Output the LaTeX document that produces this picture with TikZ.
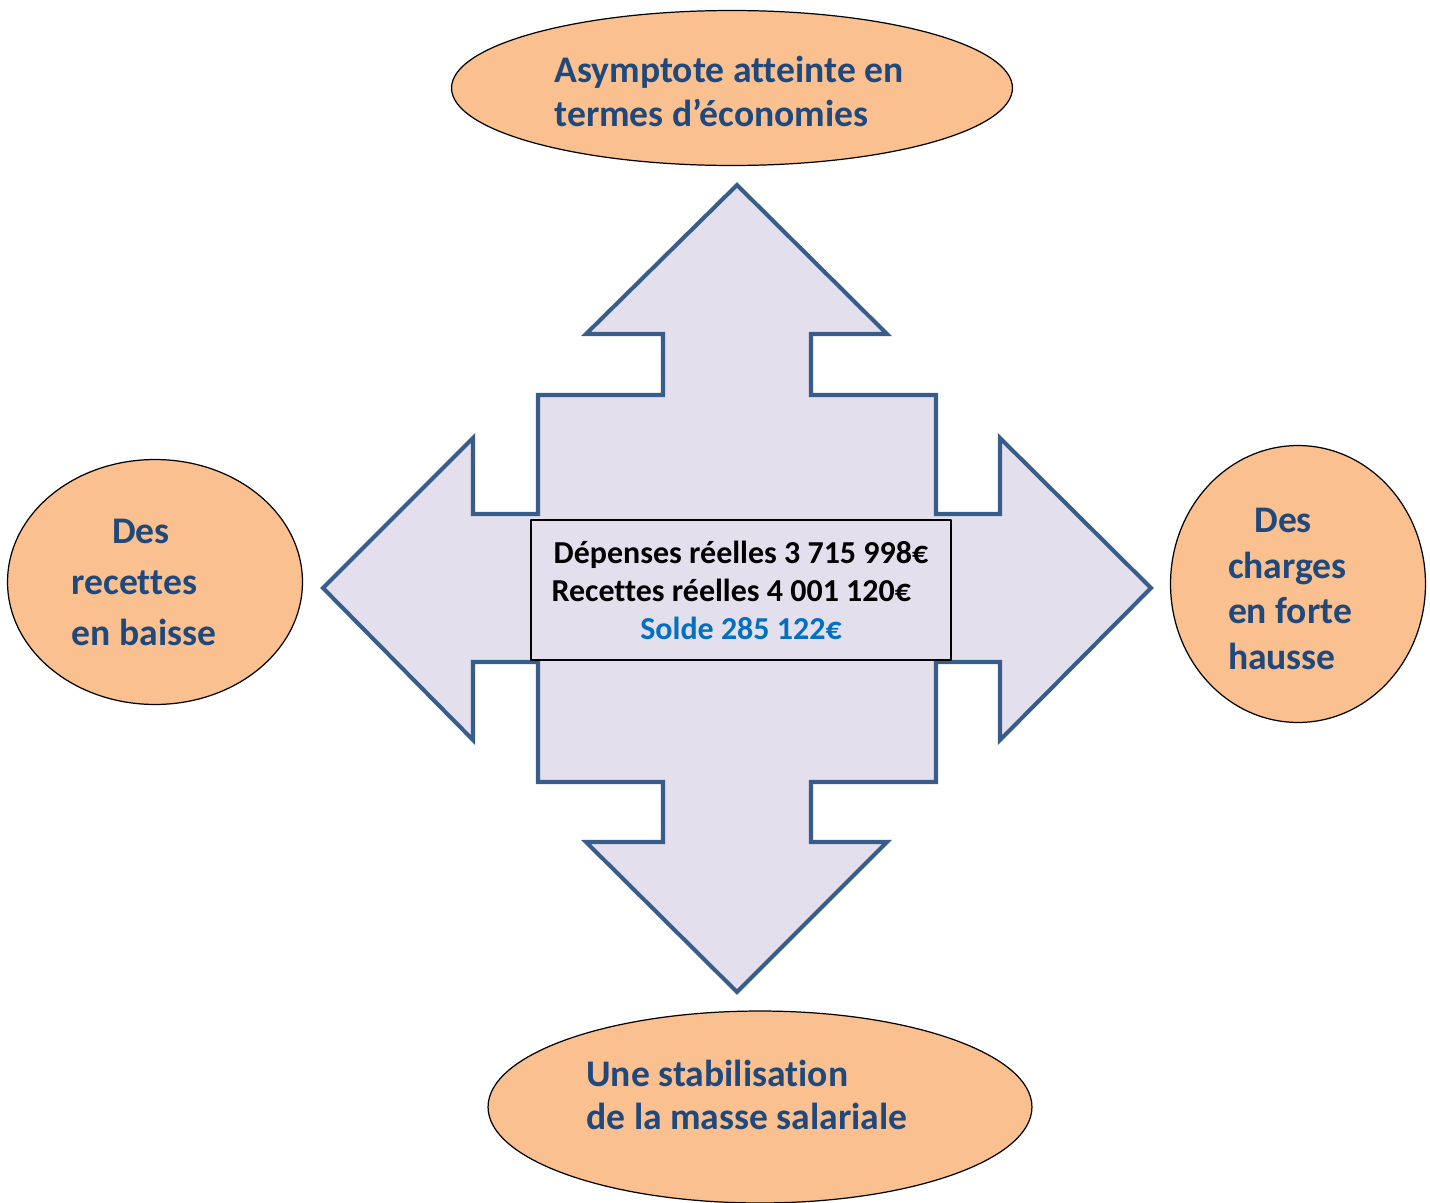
\documentclass[tikz,border=0pt]{standalone}
\usepackage{fontspec}
\setmainfont{Carlito}[Ligatures=NoCommon]
\usetikzlibrary{shapes.geometric}
\definecolor{lavande}{RGB}{228,223,236}
\definecolor{bordfleche}{RGB}{56,93,138}
\definecolor{bleutexte}{RGB}{31,73,125}
\definecolor{bleusolde}{RGB}{0,112,192}
\definecolor{orangeclair}{RGB}{250,192,144}
\begin{document}
\begin{tikzpicture}[x=0.02cm,y=-0.02cm, line join=round,
    bulle/.style={ellipse,draw=black,fill=orangeclair,line width=0.7pt,inner sep=0pt},
    texte/.style={text=bleutexte,align=left,inner sep=0pt},
    ]
    \def\taille{\fontsize{21.4}{25}\selectfont\bfseries}
    \useasboundingbox (0,0) rectangle (1430,1203);
    % fleche a quatre branches
    \draw[bordfleche, fill=lavande, line width=2.3pt, line join=miter]
        (737,185) -- (887,334) -- (811,334) -- (811,395) -- (936,395) -- (936,514)
        -- (1000,514) -- (1000,438) -- (1151,588) -- (1000,740) -- (1000,662) -- (936,662)
        -- (936,782) -- (811,782) -- (811,842) -- (887,842) -- (737,992) -- (586,842)
        -- (663,842) -- (663,782) -- (538,782) -- (538,662) -- (473,662) -- (473,740)
        -- (323,588) -- (473,438) -- (473,514) -- (538,514) -- (538,395) -- (663,395)
        -- (663,334) -- (586,334) -- cycle;
    \node[draw=black, fill=lavande, line width=0.7pt, minimum width=8.4cm, minimum height=2.8cm,
        align=center, font=\fontsize{18.2}{21.6}\selectfont\bfseries] (solde) at (741,590)
        {Dépenses réelles 3 715 998€\\
         Recettes réelles 4 001 120€\makebox[11pt]{}\\
         \textcolor{bleusolde}{Solde 285 122€}};
    % les quatre bulles
    \node[bulle, minimum width=11.22cm, minimum height=3.1cm] (haut) at (732,88) {};
    \node[bulle, minimum width=5.9cm, minimum height=4.9cm] (gauche) at (155,582) {};
    \node[bulle, minimum width=5.1cm, minimum height=5.54cm] (droite) at (1298,584) {};
    \node[bulle, minimum width=10.88cm, minimum height=3.84cm] (bas) at (760,1107) {};
    \node[texte, font=\taille] (thaut) at (729,91) {Asymptote atteinte en\\termes d’économies};
    \node[texte, font=\fontsize{21.4}{29}\selectfont\bfseries] (tgauche) at (144,582)
        {\hspace*{23pt}Des\\recettes\\en baisse};
    \node[texte, font=\fontsize{21.4}{26}\selectfont\bfseries] (tdroite) at (1290,589)
        {\hspace*{15pt}Des\\charges\\en forte\\hausse};
    \node[texte, font=\fontsize{21.4}{24.5}\selectfont\bfseries] (tbas) at (747,1095)
        {Une stabilisation\\de la masse salariale};
\end{tikzpicture}
\end{document}
